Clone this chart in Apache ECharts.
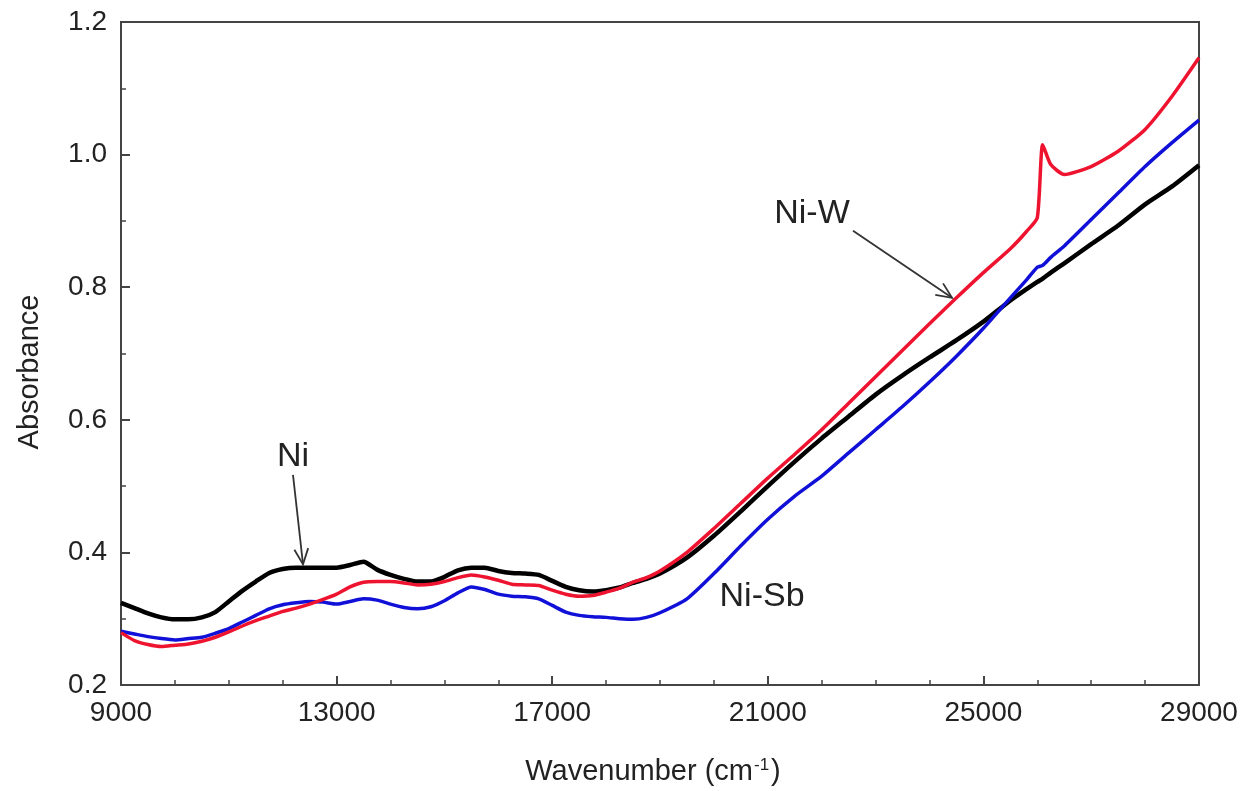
<!DOCTYPE html>
<html>
<head>
<meta charset="utf-8">
<script src="https://cdn.jsdelivr.net/npm/echarts@6/dist/echarts.min.js"></script>
<style>html,body{margin:0;padding:0;background:#fff}#c{width:1244px;height:791px}</style>
</head>
<body>
<div id="c"></div>
<script>
const wavenumber = [9000,9250,9500,9750,10000,10250,10500,10750,11000,11250,11500,11750,12000,12250,12500,12750,13000,13250,13500,13750,14000,14250,14500,14750,15000,15250,15500,15750,16000,16250,16500,16750,17000,17250,17500,17750,18000,18250,18500,18750,19000,
19500,20000,20500,21000,21500,22000,22500,23000,23500,24000,24500,25000,25500,
25800,26000,26100,26250,26500,
27000,27500,28000,28500,29000];

const absNi = [0.324,0.316,0.308,0.302,0.299,0.299,0.302,0.310,0.326,0.342,0.356,0.369,0.375,0.377,0.377,0.377,0.377,0.381,0.386,0.374,0.366,0.360,0.356,0.356,0.363,0.373,0.377,0.377,0.372,0.369,0.368,0.366,0.357,0.348,0.343,0.341,0.343,0.347,0.354,0.360,0.368,
0.392,0.425,0.462,0.500,0.537,0.572,0.605,0.638,0.667,0.694,0.720,0.748,0.780,
0.797,0.808,0.813,0.822,0.836,
0.865,0.893,0.925,0.952,0.984];

const absNiW = [0.279,0.267,0.261,0.258,0.260,0.262,0.266,0.272,0.280,0.289,0.297,0.304,0.311,0.316,0.322,0.329,0.337,0.348,0.355,0.356,0.356,0.354,0.351,0.352,0.356,0.362,0.366,0.363,0.358,0.352,0.351,0.350,0.343,0.337,0.334,0.335,0.340,0.346,0.355,0.362,0.372,
0.400,0.436,0.474,0.512,0.548,0.585,0.625,0.665,0.705,0.745,0.784,0.822,0.858,
0.884,0.905,1.015,0.985,0.970,
0.982,1.005,1.038,1.088,1.146];

const absNiSb = [0.281,0.277,0.273,0.270,0.268,0.270,0.272,0.278,0.285,0.295,0.305,0.315,0.321,0.324,0.326,0.325,0.322,0.326,0.330,0.328,0.322,0.317,0.315,0.318,0.327,0.339,0.348,0.344,0.337,0.334,0.333,0.330,0.320,0.310,0.305,0.303,0.302,0.300,0.299,0.302,0.309,
0.330,0.368,0.410,0.450,0.485,0.515,0.550,0.585,0.620,0.657,0.696,0.738,0.784,
0.811,0.830,0.833,0.845,0.862,
0.902,0.942,0.982,1.018,1.052];

const xMajorTicks = [9000,13000,17000,21000,25000,29000];
const xMinorTicks = [10000,11000,12000,14000,15000,16000,18000,19000,20000,22000,23000,24000,26000,27000,28000];

// annotation labels: [text, x, y] and arrows: [x1,y1,x2,y2] in data coordinates
const labels = [['Ni',12191,0.544],['Ni-W',21820,0.911],['Ni-Sb',20893,0.333]];
const arrows = [[12191,0.517,12377,0.382],[22581,0.885,24418,0.784]];

const FONT = "'Liberation Sans', Arial, sans-serif";
const pair = ys => wavenumber.map((x,i)=>[x, ys[i]]);

const chart = echarts.init(document.getElementById('c'), null, {renderer:'canvas'});
const lineBase = {smooth:0.2, showSymbol:false, symbol:'none', animation:false};

chart.setOption({
  backgroundColor:'#fff',
  animation:false,
  grid:{left:121, right:45, top:22, bottom:106, show:true, borderColor:'#444', borderWidth:2, containLabel:false},
  xAxis:[{
    type:'value', min:9000, max:29000,
    axisLine:{show:false},
    splitLine:{show:false},
    axisTick:{show:true, inside:true, length:9, lineStyle:{color:'#444', width:2}, customValues:xMajorTicks},
    axisLabel:{show:true, margin:14, fontSize:28, color:'#222', fontFamily:FONT, customValues:xMajorTicks, formatter:v=>String(v)},
  },{
    type:'value', min:9000, max:29000, position:'bottom',
    axisLine:{show:false},
    splitLine:{show:false},
    axisTick:{show:true, inside:true, length:5, lineStyle:{color:'#444', width:1.5}, customValues:xMinorTicks},
    axisLabel:{show:false}
  }],
  yAxis:{
    type:'value', min:0.2, max:1.2, interval:0.2,
    axisLine:{show:false},
    splitLine:{show:false},
    axisTick:{show:true, inside:true, length:9, lineStyle:{color:'#444', width:2}},
    minorTick:{show:true, splitNumber:2, length:5, lineStyle:{color:'#444', width:1.5}},
    axisLabel:{margin:14, fontSize:28, color:'#222', fontFamily:FONT, formatter:v=>v.toFixed(1)}
  },
  series:[
    Object.assign({type:'line', name:'Ni', data:pair(absNi), lineStyle:{color:'#000', width:4.5}, z:2}, lineBase),
    Object.assign({type:'line', name:'Ni-Sb', data:pair(absNiSb), lineStyle:{color:'#1010d8', width:3.5}, z:3}, lineBase),
    Object.assign({type:'line', name:'Ni-W', data:pair(absNiW), lineStyle:{color:'#ee1430', width:3.5}, z:4}, lineBase)
  ]
});

const g = [];
labels.forEach(([t,x,y])=>{
  const p = chart.convertToPixel({gridIndex:0},[x,y]);
  g.push({type:'text', x:p[0], y:p[1], style:{text:t, fontSize:34, fontFamily:FONT, fill:'#222', align:'center', verticalAlign:'middle'}, z:10});
});
arrows.forEach(([x1,y1,x2,y2])=>{
  const a = chart.convertToPixel({gridIndex:0},[x1,y1]);
  const b = chart.convertToPixel({gridIndex:0},[x2,y2]);
  const ang = Math.atan2(b[1]-a[1], b[0]-a[0]);
  const L = 17, da = 0.42;
  const h1 = [b[0]-L*Math.cos(ang-da), b[1]-L*Math.sin(ang-da)];
  const h2 = [b[0]-L*Math.cos(ang+da), b[1]-L*Math.sin(ang+da)];
  const st = {stroke:'#333', lineWidth:1.8, fill:null};
  g.push({type:'line', shape:{x1:a[0],y1:a[1],x2:b[0],y2:b[1]}, style:st, z:10});
  g.push({type:'polyline', shape:{points:[h1,b,h2]}, style:st, z:10});
});
g.push({type:'text', x:30, y:372, rotation:Math.PI/2, style:{text:'Absorbance', fontSize:29, fontFamily:FONT, fill:'#222', align:'center', verticalAlign:'middle'}});
g.push({type:'text', x:653, y:772, style:{
  text:'{a|Wavenumber (cm}{s|-1}{a|)}', align:'center', verticalAlign:'middle',
  rich:{a:{fontSize:29, fontFamily:FONT, fill:'#222', color:'#222'}, s:{fontSize:17, fontFamily:FONT, color:'#222', fill:'#222', verticalAlign:'top', padding:[0,2,14,1]}}
}});
chart.setOption({graphic:g});
</script>
</body>
</html>
